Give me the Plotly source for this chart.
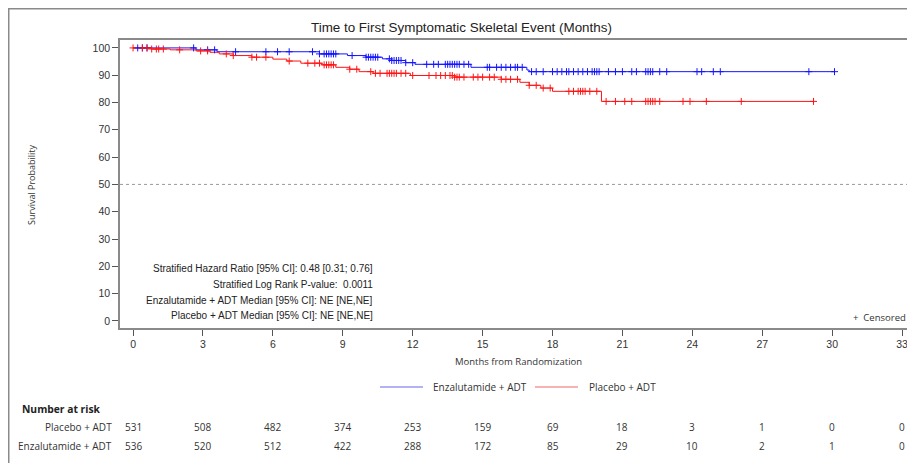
import plotly.graph_objects as go
import numpy as np

# ---------------- data ----------------
enz_times = [0, 2.7, 3.6, 8.0, 9.2, 10.0, 10.7, 11.1, 11.7, 12.1, 14.5, 16.9, 17.0, 30.1]
enz_surv = [100, 99.3, 98.6, 97.8, 97.2, 96.6, 96.0, 95.4, 94.6, 94.0, 92.9, 91.9, 91.3, 91.3]

pbo_times = [0, 0.8, 1.6, 2.7, 3.3, 3.7, 4.3, 5.1, 6.0, 6.6, 7.2, 8.1, 8.7, 9.3, 9.7, 10.3,
             11.9, 13.8, 15.8, 16.6, 17.0, 17.5, 18.0, 20.1, 29.2]
pbo_surv = [100, 99.6, 99.3, 98.9, 98.4, 97.8, 97.2, 96.6, 95.9, 95.2, 94.4, 93.8, 92.9, 92.2,
            91.3, 90.7, 89.9, 89.3, 88.5, 87.4, 86.3, 85.3, 84.1, 80.4, 80.4]

enz_censor = [0.2, 0.4, 0.6, 2.6, 3.2, 3.5, 4.4, 5.7, 6.2, 6.7, 7.7, 8.0, 8.2, 8.3, 8.4, 8.5,
              8.6, 8.7, 9.4, 10.0, 10.1, 10.2, 10.3, 10.4, 10.5, 11.0, 11.1, 11.2, 11.3, 11.4,
              11.5, 11.7, 12.0, 12.6, 12.9, 13.1, 13.4, 13.5, 13.6, 13.7, 13.8, 13.9, 14.0,
              14.2, 14.4, 15.2, 15.3, 15.6, 15.8, 16.0, 16.2, 16.4, 16.5, 16.7, 17.1, 17.3,
              17.6, 18.0, 18.2, 18.4, 18.6, 18.7, 18.9, 19.1, 19.3, 19.5, 19.7, 19.8, 19.9,
              20.0, 20.4, 20.7, 21.0, 21.4, 21.6, 22.0, 22.1, 22.2, 22.3, 22.6, 22.9, 24.2,
              24.4, 24.9, 25.2, 29.0, 30.1]

pbo_censor = [0.0, 0.4, 0.6, 0.8, 1.0, 1.1, 1.3, 2.0, 2.9, 3.2, 4.0, 4.3, 5.1, 5.3, 5.7, 6.7,
              7.5, 7.8, 8.0, 8.2, 8.3, 8.4, 8.5, 8.6, 9.3, 9.6, 10.2, 10.4, 10.6, 10.9, 11.0,
              11.1, 11.2, 11.3, 11.5, 11.7, 12.0, 12.7, 13.0, 13.2, 13.4, 13.6, 13.7, 13.8,
              13.9, 14.0, 14.2, 14.6, 14.8, 15.0, 15.3, 15.5, 15.8, 16.0, 16.2, 16.5, 17.0,
              17.3, 17.6, 17.9, 18.7, 18.9, 19.1, 19.2, 19.3, 19.4, 19.6, 19.9, 20.3, 20.7,
              21.1, 21.4, 22.0, 22.1, 22.2, 22.3, 22.4, 22.6, 23.6, 23.9, 24.6, 26.1, 29.2]

risk_months = [0, 3, 6, 9, 12, 15, 18, 21, 24, 27, 30, 33]
risk_pbo = [531, 508, 482, 374, 253, 159, 69, 18, 3, 1, 0, 0]
risk_enz = [536, 520, 512, 422, 288, 172, 85, 29, 10, 2, 1, 0]

x_ticks = [0, 3, 6, 9, 12, 15, 18, 21, 24, 27, 30, 33]
y_ticks = [0, 10, 20, 30, 40, 50, 60, 70, 80, 90, 100]

stats_lines = [
    "Stratified Hazard Ratio [95% CI]: 0.48 [0.31; 0.76]",
    "Stratified Log Rank P-value:  0.0011",
    "Enzalutamide + ADT Median [95% CI]: NE [NE,NE]",
    "Placebo + ADT Median [95% CI]: NE [NE,NE]",
]

# ---------------- layout helpers (screen px -> paper coords; page has 8px body margin) ----------------
OFF = 8
W, H = 915, 463
L = 120 - OFF
T = 40 - OFF
R = W - (910 - OFF)
B = H - (328 - OFF)
PW, PH = W - L - R, H - T - B


def fx(px):
    return (px - OFF - L) / PW


def fy(py):
    return 1 - (py - OFF - T) / PH


def step_value(times, surv, t):
    idx = np.searchsorted(np.array(times), t, side="right") - 1
    idx = max(idx, 0)
    return surv[idx]


BLUE = "#1414ff"
RED = "#ff1414"
SANS = "Liberation Sans, Arial, sans-serif"
OPEN = "Open Sans, sans-serif"
TXT = "#333333"

fig = go.Figure()

fig.add_trace(go.Scatter(x=enz_times, y=enz_surv, mode="lines", line_shape="hv",
                         line=dict(color=BLUE, width=1), showlegend=False, hoverinfo="skip"))
fig.add_trace(go.Scatter(x=pbo_times, y=pbo_surv, mode="lines", line_shape="hv",
                         line=dict(color=RED, width=1), showlegend=False, hoverinfo="skip"))

fig.add_trace(go.Scatter(x=enz_censor, y=[step_value(enz_times, enz_surv, t) for t in enz_censor],
                         mode="markers",
                         marker=dict(symbol="cross-thin", size=5, line=dict(color=BLUE, width=1)),
                         showlegend=False, hoverinfo="skip"))
fig.add_trace(go.Scatter(x=pbo_censor, y=[step_value(pbo_times, pbo_surv, t) for t in pbo_censor],
                         mode="markers",
                         marker=dict(symbol="cross-thin", size=5, line=dict(color=RED, width=1)),
                         showlegend=False, hoverinfo="skip"))

shapes = []
shapes.append(dict(type="line", xref="paper", yref="y", x0=0, x1=1, y0=50, y1=50,
                   line=dict(color="#999999", width=1, dash="dot")))
# outer frame (left and top edges of the figure)
shapes.append(dict(type="line", xref="paper", yref="paper", x0=fx(8.75), x1=fx(8.75), y0=fy(8), y1=fy(480),
                   line=dict(color="#8a8a8a", width=1.5)))
shapes.append(dict(type="line", xref="paper", yref="paper", x0=fx(8), x1=fx(930), y0=fy(8.75), y1=fy(8.75),
                   line=dict(color="#8a8a8a", width=1.5)))
shapes.append(dict(type="line", xref="paper", yref="paper", x0=1, x1=fx(930), y0=1, y1=1,
                   line=dict(color="#8a8a8a", width=1.5)))
# legend keys
shapes.append(dict(type="line", xref="paper", yref="paper", x0=fx(380), x1=fx(423), y0=fy(387), y1=fy(387),
                   line=dict(color="#9a9af0", width=1.5)))
shapes.append(dict(type="line", xref="paper", yref="paper", x0=fx(535), x1=fx(578), y0=fy(387), y1=fy(387),
                   line=dict(color="#f59a9a", width=1.5)))


def ann(text, px, py, anchor="center", size=10, family=OPEN, color=TXT, **kw):
    return dict(text=text, xref="paper", yref="paper", x=fx(px), y=fy(py), showarrow=False,
                xanchor=anchor, yanchor="middle", font=dict(family=family, size=size, color=color), **kw)


annotations = [
    ann("Time to First Symptomatic Skeletal Event (Months)", 461, 27, size=13.4, family=SANS, color="#222222"),
]
for line, py in zip(stats_lines, [268, 284, 300, 315]):
    annotations.append(ann(line, 375, py, anchor="right", size=10, family=SANS, color="#222222"))
annotations += [
    ann("+  Censored", 908, 317, anchor="right", size=9.5),
    ann("Months from Randomization", 518, 361, size=9.5),
    ann("Survival Probability", 31, 185, size=9, textangle=-90),
    ann("Enzalutamide + ADT", 431, 387, anchor="left", size=10),
    ann("Placebo + ADT", 587, 387, anchor="left", size=10),
    ann("<b>Number at risk</b>", 20, 409, anchor="left", size=10.3, color="#222222"),
    ann("Placebo + ADT", 114, 427, anchor="right", size=10),
    ann("Enzalutamide + ADT", 114, 446, anchor="right", size=10),
]
for m, a, b in zip(risk_months, risk_pbo, risk_enz):
    for val, py in ((a, 427), (b, 446)):
        annotations.append(dict(text=str(val), xref="x", yref="paper", x=m, y=fy(py), showarrow=False,
                                xanchor="center", yanchor="middle",
                                font=dict(family=OPEN, size=10, color=TXT)))

axis_common = dict(tickmode="array", ticks="outside", ticklen=6, tickcolor="#555555", tickwidth=1,
                   showgrid=False, zeroline=False, showline=True, linecolor="#8a8a8a", linewidth=1.5,
                   mirror=True, tickfont=dict(family=SANS, size=10.5, color=TXT))

fig.update_layout(
    width=W, height=H,
    margin=dict(l=L, r=R, t=T, b=B, pad=0),
    paper_bgcolor="white", plot_bgcolor="white",
    shapes=shapes, annotations=annotations,
    showlegend=False,
    xaxis=dict(range=[-0.56, 33.34], tickvals=x_ticks, ticktext=[str(v) for v in x_ticks], **axis_common),
    yaxis=dict(range=[-2.6, 102.9], tickvals=y_ticks, ticktext=[str(v) for v in y_ticks], **axis_common),
)

fig.write_html("out.html")
